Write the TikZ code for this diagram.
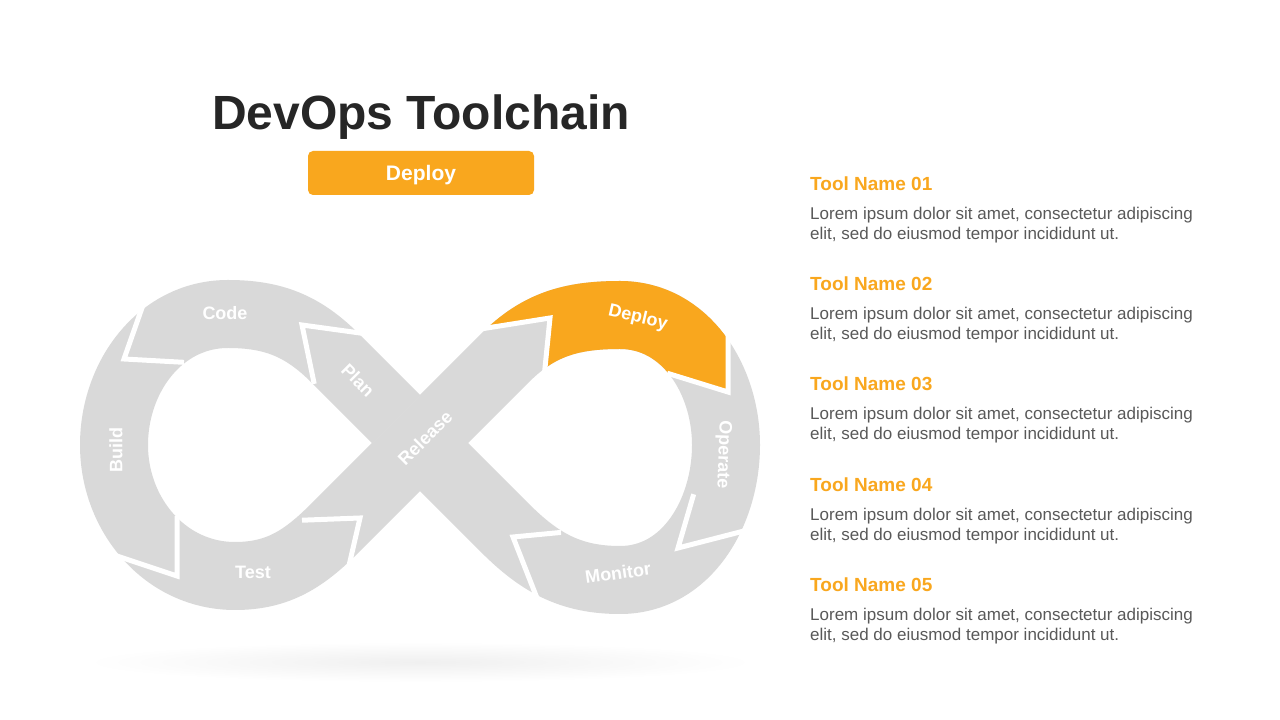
\documentclass[tikz,border=0pt]{standalone}
\usepackage{fontspec}
\setmainfont{Liberation Sans}
\usepackage{xcolor}
\usepackage{tikz}
\usetikzlibrary{positioning}

\definecolor{bandgray}{HTML}{D9D9D9}
\definecolor{deployorange}{HTML}{F9A71E}
\definecolor{titlegray}{HTML}{262626}
\definecolor{textgray}{HTML}{595959}

\tikzstyle{band} = [bandgray, line width=68pt, line join=round]
\tikzstyle{divider} = [white, line width=5pt, line join=miter, shorten <=-6pt, shorten >=-6pt]
\tikzstyle{stagelabel} = [text=white, font=\bfseries\fontsize{18}{20}\selectfont, inner sep=0pt]
\tikzstyle{title} = [text=titlegray, font=\bfseries\fontsize{48}{52}\selectfont, inner sep=0pt]
\tikzstyle{button} = [fill=deployorange, rounded corners=5pt, minimum width=226pt, minimum height=44pt, text height=15pt, text depth=0pt, text=white, font=\bfseries\fontsize{21}{24}\selectfont]
\tikzstyle{toolname} = [text=deployorange, font=\bfseries\fontsize{19}{22}\selectfont, inner sep=0pt, anchor=west]
\tikzstyle{toolbody} = [text=textgray, font=\fontsize{17}{20}\selectfont, inner sep=0pt, align=left, anchor=north west]

\begin{document}
\begin{tikzpicture}[x=1pt, y=1pt]
\path [use as bounding box, fill=white] (0,0) rectangle (1280,720);

% Shadow under the loop
\shade [inner color=black!6, outer color=white] (420,58) ellipse (335 and 20);

% Infinity band
\draw [band] (420,277) -- (335,362) to[out=135,in=0] (228,406) to[out=180,in=90] (114,275)
  to[out=270,in=180] (235,144) to[out=0,in=225] (335,192) -- (505,362)
  to[out=45,in=180] (620,405) to[out=0,in=90] (726,275) to[out=270,in=0] (620,140)
  to[out=180,in=315] (505,192) -- cycle;
\draw [black!14, line width=0.6pt] (373,277) -- (420,324);

% Deploy part
\begin{scope}
\clip (440,480) -- (490,395) -- (550,402) -- (545,352) -- (560,320) -- (650,320) -- (673,345)
  -- (728,328) -- (728,385) -- (780,420) -- (780,480) -- cycle;
\draw [band, deployorange] (420,277) -- (505,362) to[out=45,in=180] (620,405) to[out=0,in=90] (726,275);
\end{scope}

% Place lines
\draw [divider] (143,415) -- (124,361) -- (178,358);
\draw [divider] (120,163) -- (177,144) -- (177,198);
\draw [divider] (308,200) -- (360,202) -- (348,150);
\draw [divider] (313,342) -- (302,395) -- (360,387);
\draw [divider] (487,392) -- (550,402) -- (545,352);
\draw [divider] (728,385) -- (728,328) -- (673,345);
\draw [divider] (692,220) -- (678,172) -- (740,188);
\draw [divider] (555,187) -- (513,183) -- (535,127);

% Place nodes
\node [stagelabel] (code) at (225,407) {Code};
\node [stagelabel, rotate=90] (build) at (116,270) {Build};
\node [stagelabel] (test) at (253,148) {Test};
\node [stagelabel, rotate=-45] (plan) at (358,340) {Plan};
\node [stagelabel, rotate=45] (release) at (425,282) {Release};
\node [stagelabel, rotate=-13] (deploy) at (638,402) {Deploy};
\node [stagelabel, rotate=-92] (operate) at (723,265) {Operate};
\node [stagelabel, rotate=8] (monitor) at (618,147) {Monitor};

\node [title] (heading) at (421,603) {DevOps Toolchain};
\node [button] (current) at (421,547) {Deploy};

\node [toolname] (tool1) at (810,536) {Tool Name 01};
\node [toolbody, yshift=-16pt] (desc1) at (tool1.south west) {Lorem ipsum dolor sit amet, consectetur adipiscing\\elit, sed do eiusmod tempor incididunt ut.};
\node [toolname] (tool2) at (810,436) {Tool Name 02};
\node [toolbody, yshift=-16pt] (desc2) at (tool2.south west) {Lorem ipsum dolor sit amet, consectetur adipiscing\\elit, sed do eiusmod tempor incididunt ut.};
\node [toolname] (tool3) at (810,336) {Tool Name 03};
\node [toolbody, yshift=-16pt] (desc3) at (tool3.south west) {Lorem ipsum dolor sit amet, consectetur adipiscing\\elit, sed do eiusmod tempor incididunt ut.};
\node [toolname] (tool4) at (810,235) {Tool Name 04};
\node [toolbody, yshift=-16pt] (desc4) at (tool4.south west) {Lorem ipsum dolor sit amet, consectetur adipiscing\\elit, sed do eiusmod tempor incididunt ut.};
\node [toolname] (tool5) at (810,135) {Tool Name 05};
\node [toolbody, yshift=-16pt] (desc5) at (tool5.south west) {Lorem ipsum dolor sit amet, consectetur adipiscing\\elit, sed do eiusmod tempor incididunt ut.};

\end{tikzpicture}
\end{document}
